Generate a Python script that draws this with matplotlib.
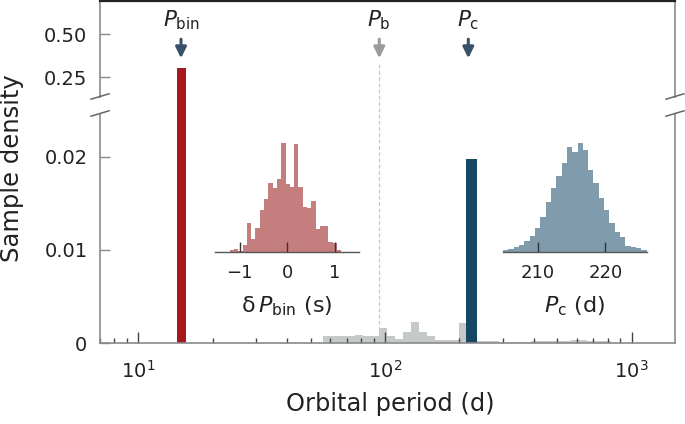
import numpy as np
import matplotlib
matplotlib.use('Agg')
import matplotlib.pyplot as plt
from matplotlib.ticker import LogLocator, NullFormatter, FixedLocator

# Reference periods (days)
p_bin = 14.9
p_b = 94.8
p_c = 217.6

# Sharp posterior peaks: bin edges (days) and density
bin_bar_edges = [14.38, 15.56]
bin_bar_height = 0.302
c_bar_edges = [213.0, 235.9]
c_bar_height = 0.0197

# Broad grey posterior, log-spaced bins (log10 days)
gray_log_start = 1.7487
gray_log_step = 0.03243
gray_heights = np.array([7.5, 8, 8, 8, 9, 7.5, 8, 16, 8, 4.5,
                         12, 23, 12, 8, 4, 4, 4, 22, 5, 2.5,
                         2, 2, 1.5, 1.5, 1.5, 1.5, 2, 2, 2.5, 3,
                         3, 3.5, 3.5, 3, 2.5, 2]) * 1e-4

# Inset: delta P_bin (s)
dpbin_start = -1.21
dpbin_step = 0.0903
dpbin_counts = [4, 9, 3, 19, 87, 39, 71, 124, 159, 207, 191, 219, 327,
                204, 194, 324, 194, 134, 131, 151, 69, 77, 77, 29, 27, 4]

# Inset: P_c (d)
pc_start = 204.9
pc_step = 0.785
pc_counts = [5, 8, 15, 20, 33, 48, 70, 105, 150, 190, 227, 267, 315, 300,
             325, 305, 245, 207, 160, 125, 87, 60, 43, 17, 13, 10, 5]

red = '#a5191e'
navy = '#164864'
red_light = '#c47e7e'
blue_light = '#7f9bac'
grey_hist = '#c5c9c9'
arrow_dark = '#3a5068'
arrow_grey = '#9a9a9a'

W, H = 685, 424
fig = plt.figure(figsize=(W / 100, H / 100), dpi=100)

def px(x0, y0, x1, y1):
    # pixel box (top-left origin) -> figure fraction rect
    return [x0 / W, (H - y1) / H, (x1 - x0) / W, (y1 - y0) / H]

ax_top = fig.add_axes(px(100, 1, 675, 96.5))
ax_bot = fig.add_axes(px(100, 113.5, 675, 343.3))
for ax in (ax_top, ax_bot):
    ax.set_facecolor('none')
    ax.set_xscale('log')
    ax.set_xlim(6.995, 1498)

ax_top.set_ylim(0.1366, 0.692)
ax_bot.set_ylim(0, 0.02463)

# grey histogram
gray_edges = 10 ** (gray_log_start + gray_log_step * np.arange(len(gray_heights) + 1))
ax_bot.stairs(gray_heights, gray_edges, fill=True, color=grey_hist, zorder=1)

# P_bin peak: drawn in the top panel, continuing down through the break
gap_px = ax_bot.get_position().y1 * H
y_gap_top = ax_top.transData.inverted().transform((0, gap_px))[1]
ax_top.bar(bin_bar_edges[0], bin_bar_height - y_gap_top, bottom=y_gap_top,
           width=bin_bar_edges[1] - bin_bar_edges[0], align='edge', color=red,
           zorder=2, clip_on=False)
ax_bot.bar(bin_bar_edges[0], bin_bar_height, width=bin_bar_edges[1] - bin_bar_edges[0],
           align='edge', color=red, zorder=2)
ax_bot.bar(c_bar_edges[0], c_bar_height, width=c_bar_edges[1] - c_bar_edges[0],
           align='edge', color=navy, zorder=2)

# dashed line at P_b
ax_bot.plot([p_b, p_b], [0, 0.03015], ls=(0, (3, 2)), color='#c8c8c8', lw=0.9,
            clip_on=False, zorder=0.5)

# spines
ax_top.spines['bottom'].set_visible(False)
ax_bot.spines['top'].set_visible(False)
ax_top.spines['top'].set_color('#222222')
ax_top.spines['top'].set_linewidth(1.6)
for ax in (ax_top, ax_bot):
    for s in ('left', 'right'):
        ax.spines[s].set_color('#8a8a8a')
        ax.spines[s].set_linewidth(1.2)
ax_bot.spines['bottom'].set_color('#8a8a8a')
ax_bot.spines['bottom'].set_linewidth(1.2)

# ticks
ax_top.set_yticks([0.25, 0.50])
ax_top.set_yticklabels(['0.25', '0.50'])
ax_bot.set_yticks([0, 0.01, 0.02])
ax_bot.set_yticklabels(['0', '0.01', '0.02'])
for ax in (ax_top, ax_bot):
    ax.tick_params(axis='y', direction='in', length=7.2, width=1, color='#8a8a8a',
                   labelsize=14, pad=9, labelcolor='#222222', right=False)
ax_top.tick_params(axis='x', which='both', bottom=False, top=False,
                   labelbottom=False)
ax_bot.xaxis.set_major_locator(LogLocator(base=10, numticks=10))
ax_bot.xaxis.set_minor_locator(LogLocator(base=10, subs=np.arange(2, 10), numticks=20))
ax_bot.xaxis.set_minor_formatter(NullFormatter())
ax_bot.tick_params(axis='x', which='major', direction='in', length=7.7, width=1,
                   color='#444444', labelsize=14, pad=12, labelcolor='#222222')
ax_bot.tick_params(axis='x', which='minor', direction='in', length=3.6, width=1,
                   color='#444444')

# axis break marks
def break_marks(ax, ypos):
    bw = ax.get_position().width * W
    bh = ax.get_position().height * H
    dx = 9 / bw
    dy = 2.7 / bh
    for x in (0, 1):
        ax.plot([x - dx, x + dx], [ypos - dy, ypos + dy], transform=ax.transAxes,
                color='#666666', lw=1.1, clip_on=False, zorder=5)

break_marks(ax_top, 0)
break_marks(ax_bot, 1)

# arrows and labels
marks = [(p_bin, r'$P_{\mathrm{bin}}$', arrow_dark),
         (p_b, r'$P_{\mathrm{b}}$', arrow_grey),
         (p_c, r'$P_{\mathrm{c}}$', arrow_dark)]
for xv, lab, col in marks:
    ax_top.annotate('', xy=(xv, 0.40), xytext=(xv, 0.60),
                    xycoords=('data', 'axes fraction'),
                    textcoords=('data', 'axes fraction'),
                    arrowprops=dict(arrowstyle='-|>,head_width=0.32,head_length=0.65',
                                    lw=2.2, color=col, shrinkA=0, shrinkB=0))
    ax_top.text(xv, 0.80, lab, transform=ax_top.get_xaxis_transform(),
                ha='center', va='center', fontsize=15.5, color='#222222')

# labels
fig.text(12 / W, 1 - 168 / H, 'Sample density', rotation=90, ha='center',
         va='center', fontsize=17.5, color='#222222')
fig.text(390 / W, 1 - 404 / H, 'Orbital period (d)', ha='center', va='center',
         fontsize=17.4, color='#222222')

# insets
def inset(rect, start, step, counts, color, xlim, ticks, ticklabels, label):
    ax = fig.add_axes(rect)
    edges = start + step * np.arange(len(counts) + 1)
    ax.stairs(counts, edges, fill=True, color=color, zorder=1)
    ax.set_xlim(*xlim)
    ax.set_ylim(0, 340)
    ax.set_facecolor('none')
    for s in ('left', 'right', 'top'):
        ax.spines[s].set_visible(False)
    ax.spines['bottom'].set_color('#555555')
    ax.spines['bottom'].set_linewidth(1.0)
    ax.set_yticks([])
    ax.xaxis.set_major_locator(FixedLocator(ticks))
    ax.set_xticklabels(ticklabels)
    ax.tick_params(axis='x', direction='in', length=7, width=1, color='#333333',
                   labelsize=13, pad=9, labelcolor='#222222')
    for t in ax.xaxis.get_major_ticks():
        t.tick1line.set_zorder(3)
    ax.set_xlabel(label, fontsize=16, labelpad=9, color='#222222')
    return ax

inset(px(215, 138.5, 359, 251.5), dpbin_start, dpbin_step, dpbin_counts, red_light,
      (-1.52, 1.51), [-1, 0, 1], ['\u22121', '0', '1'],
      '\u03b4' + r'$\,P_{\mathrm{bin}}$ (s)')
inset(px(502.7, 138.5, 647.3, 251.5), pc_start, pc_step, pc_counts, blue_light,
      (204.83, 226.2), [210, 220], ['210', '220'], r'$P_{\mathrm{c}}$ (d)')

fig.savefig('out.png', dpi=100)
